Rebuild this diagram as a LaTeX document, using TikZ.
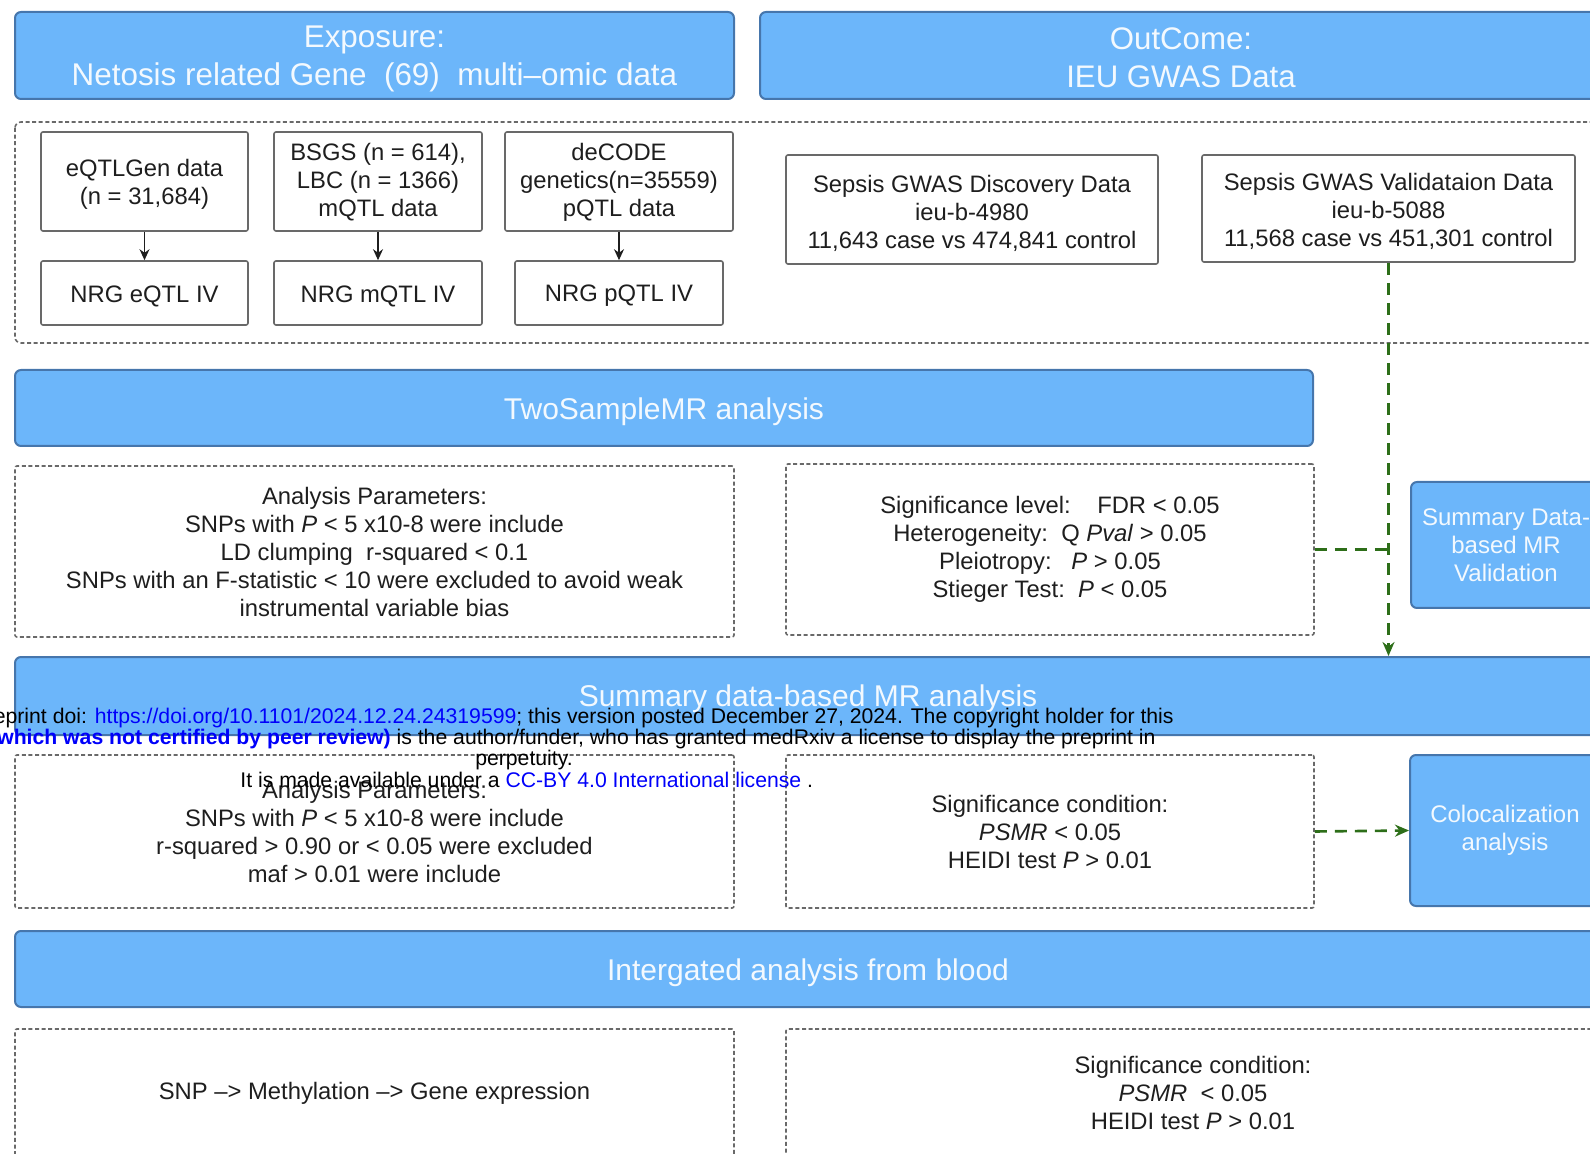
\documentclass[tikz,border=0pt]{standalone}
\usepackage{fontspec}
\setmainfont{Liberation Sans}
\usetikzlibrary{arrows.meta}
\definecolor{hdrblue}{RGB}{108,182,250}
\definecolor{hdredge}{RGB}{70,118,172}
\definecolor{linkgreen}{RGB}{45,110,25}
\definecolor{boxgray}{RGB}{105,105,105}
\definecolor{txtgray}{RGB}{30,30,30}
\definecolor{linkblue}{RGB}{0,0,250}
\tikzset{
  header/.style={draw=hdredge, line width=1pt, fill=hdrblue, rounded corners=3pt, inner sep=0pt},
  hdrtext/.style={text=white!92!hdrblue, font=\fontsize{15}{19}\selectfont, align=center, inner sep=0pt},
  sidebox/.style={header, text=white!92!hdrblue, font=\fontsize{12}{14}\selectfont, align=center},
  databox/.style={draw=boxgray, line width=0.8pt, fill=white, rounded corners=1pt, inner sep=0pt},
  boxtext/.style={text=txtgray, font=\fontsize{11.9}{14}\selectfont, align=center, inner sep=0pt},
  parbox/.style={draw=boxgray, line width=0.8pt, dash pattern=on 2pt off 1.3pt, rounded corners=1pt,
    boxtext},
  ivarrow/.style={-{Stealth[length=5.5pt,width=5pt]}, line width=0.7pt, draw=txtgray},
  greenlink/.style={draw=linkgreen, line width=1.3pt, dash pattern=on 6pt off 4pt},
  wmark/.style={inner sep=0pt, font=\fontsize{10.6}{10.5}\selectfont, text=black},
}
\begin{document}
\begin{tikzpicture}[x=0.5pt, y=-0.5pt]
\useasboundingbox (0,0) rectangle (1590,1154);
% exposure and outcome
\node[header, minimum width=359.5pt, minimum height=43.5pt] (expo) at (374.5,55.5) {};
\node[hdrtext, font=\fontsize{15.7}{19}\selectfont] (expo-t) at ([yshift=-1.8pt]expo.center)
  {Exposure:\\Netosis related Gene\ \ (69)\ \ multi–omic data};
\node[header, minimum width=421pt, minimum height=43.5pt] (outc) at (1181,55.5) {};
\node[hdrtext, font=\fontsize{15.6}{19}\selectfont] (outc-t) at ([yshift=-1.2pt]outc.center)
  {OutCome:\\IEU GWAS Data};
\draw[parbox, rounded corners=3pt] (15,122) rectangle (1610,343);
\node[databox, minimum width=103.5pt, minimum height=49.5pt] (eqtl) at (144.5,181.5) {};
\node[boxtext] (eqtl-t) at ([yshift=-1.5pt]eqtl.center) {eQTLGen data\\(n = 31,684)};
\node[databox, minimum width=104pt, minimum height=49.5pt] (mqtl) at (378,181.5) {};
\node[boxtext] (mqtl-t) at ([yshift=-0.5pt]mqtl.center) {BSGS (n = 614),\\LBC (n = 1366)\\mQTL data};
\node[databox, minimum width=114pt, minimum height=49.5pt] (pqtl) at (619,181.5) {};
\node[boxtext] (pqtl-t) at ([yshift=-0.5pt]pqtl.center) {deCODE\\genetics(n=35559)\\pQTL data};
\node[databox, minimum width=103.5pt, minimum height=32pt] (eiv) at (144.5,293) {};
\node[boxtext] (eiv-t) at ([yshift=-1.5pt]eiv.center) {NRG eQTL IV};
\node[databox, minimum width=104pt, minimum height=32pt] (miv) at (378,293) {};
\node[boxtext] (miv-t) at ([yshift=-1.5pt]miv.center) {NRG mQTL IV};
\node[databox, minimum width=104pt, minimum height=32pt] (piv) at (619,293) {};
\node[boxtext] (piv-t) at ([yshift=-1.5pt]piv.center) {NRG pQTL IV};
\foreach \a/\b in {eqtl/eiv,mqtl/miv,pqtl/piv}
  \draw[ivarrow] (\a) -- (\b);
\node[databox, minimum width=186pt, minimum height=54.5pt] (disc) at (972,209.5) {};
\node[boxtext] (disc-t) at ([yshift=-1.8pt]disc.center)
  {Sepsis GWAS Discovery Data\\ieu-b-4980\\11,643 case vs 474,841 control};
\node[databox, minimum width=186.5pt, minimum height=53.5pt] (vali) at (1388.5,208.5) {};
\node[boxtext] (vali-t) at ([yshift=-1.5pt]vali.center)
  {Sepsis GWAS Validataion Data\\ieu-b-5088\\11,568 case vs 451,301 control};
% two sample MR
\node[header, minimum width=649pt, minimum height=38pt] (tsmr) at (664,408) {};
\node[hdrtext] (tsmr-t) at ([yshift=-2pt]tsmr.center) {TwoSampleMR analysis};
\node[parbox, minimum width=359.5pt, minimum height=85.5pt] (par1) at (374.5,551.5)
  {Analysis Parameters:\\SNPs with \textit{P} < 5 x10-8 were include\\LD clumping\ \ r-squared < 0.1\\
   SNPs with an F-statistic < 10 were excluded to avoid weak\\instrumental variable bias};
\node[parbox, minimum width=264pt, minimum height=85.5pt] (sig1) at (1050,549.5)
  {Significance level:\ \ \ \ FDR < 0.05\\Heterogeneity:\ \ Q \textit{Pval} > 0.05\\
   Pleiotropy:\ \ \ \textit{P} > 0.05\\Stieger Test:\ \ \textit{P} < 0.05};
\node[sidebox, minimum width=95pt, minimum height=63pt] (smrv) at (1506,545)
  {Summary Data-\\based MR\\Validation};
% SMR
\node[header, minimum width=793pt, minimum height=39pt] (smr) at (808,696) {};
\node[hdrtext] (smr-t) at ([yshift=-1.5pt]smr.center) {Summary data-based MR analysis};
\node[parbox, minimum width=359.5pt, minimum height=76.5pt] (par2) at (374.5,831.5)
  {Analysis Parameters:\\SNPs with \textit{P} < 5 x10-8 were include\\
   r-squared > 0.90 or < 0.05 were excluded\\maf > 0.01 were include};
\node[parbox, minimum width=264pt, minimum height=76.5pt] (sig2) at (1050,831.5)
  {Significance condition:\\\textit{PSMR} < 0.05\\HEIDI test \textit{P} > 0.01};
\node[sidebox, minimum width=95pt, minimum height=75.5pt] (coloc) at (1505,830.5)
  {Colocalization\\analysis};
% integrated
\node[header, minimum width=793pt, minimum height=38pt] (integ) at (808,969) {};
\node[hdrtext] (integ-t) at ([yshift=-2pt]integ.center) {Intergated analysis from blood};
\node[parbox, minimum width=359.5pt, minimum height=64pt] (snp) at (374.5,1093)
  {SNP –> Methylation –> Gene expression};
\node[parbox, minimum width=407pt, minimum height=64pt] (bsig) at (1193,1093)
  {Significance condition:\\\textit{PSMR}\ \ < 0.05\\HEIDI test \textit{P} > 0.01};
% green links
\coordinate (gj) at (vali.south |- sig1.east);
\draw[greenlink, -{Stealth[length=7pt,width=6pt]}] (vali.south) -- (vali.south |- smr.north);
\draw[greenlink] (sig1.east) -- (gj);
\draw[greenlink, -{Stealth[length=7pt,width=6pt]}] (sig2.east) -- (coloc.west);
% preprint notice
\node[wmark, anchor=east] (wm1) at (1174,718)
  {medRxiv preprint doi: \textcolor{linkblue}{https://doi.org/10.1101/2024.12.24.24319599}; this version posted December 27, 2024. The copyright holder for this};
\node[wmark, anchor=east] (wm2) at (1156,739)
  {preprint \textcolor{linkblue}{\bfseries(which was not certified by peer review)} is the author/funder, who has granted medRxiv a license to display the preprint in};
\node[wmark] (wm3) at (524,760) {perpetuity.};
\node[wmark, anchor=west] (wm4) at (240,780)
  {It is made available under a \textcolor{linkblue}{CC-BY 4.0 International license} .};
\end{tikzpicture}
\end{document}
